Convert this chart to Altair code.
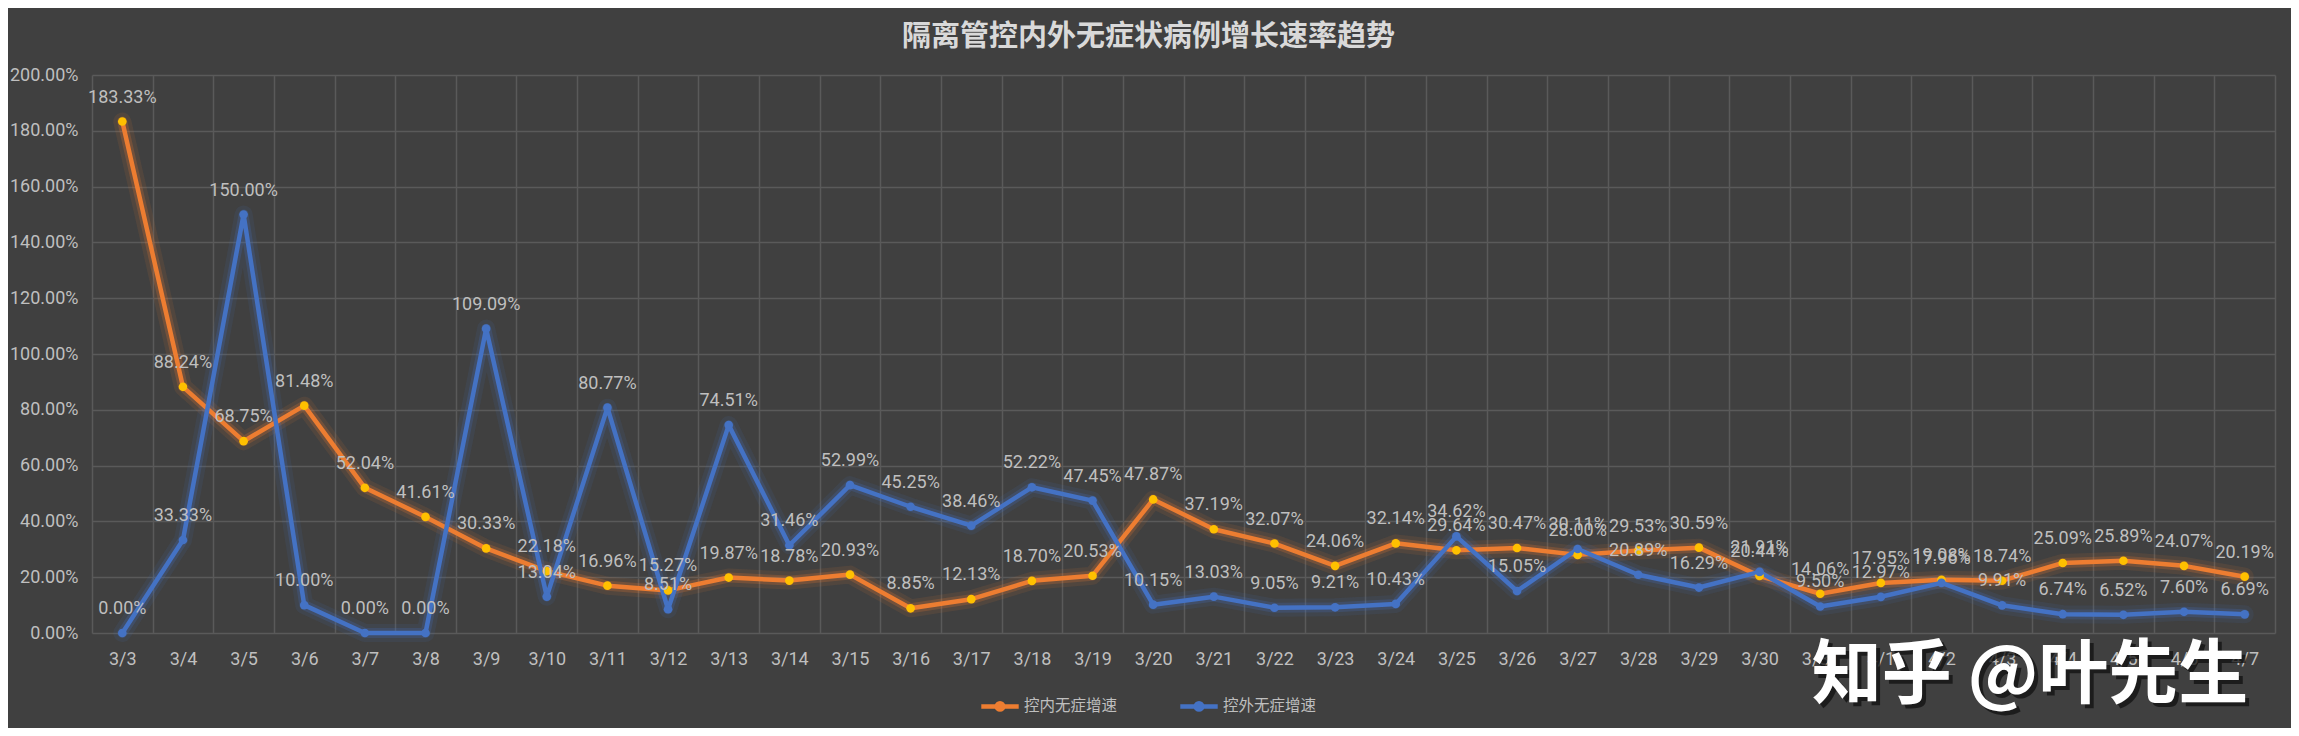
import altair as alt
import pandas as pd

# ---------------- data ----------------
dates = ["3/3", "3/4", "3/5", "3/6", "3/7", "3/8", "3/9", "3/10", "3/11", "3/12",
         "3/13", "3/14", "3/15", "3/16", "3/17", "3/18", "3/19", "3/20", "3/21", "3/22",
         "3/23", "3/24", "3/25", "3/26", "3/27", "3/28", "3/29", "3/30", "3/31",
         "4/1", "4/2", "4/3", "4/4", "4/5", "4/6", "4/7"]

inside_pct = [183.33, 88.24, 68.75, 81.48, 52.04, 41.61, 30.33, 22.18, 16.96, 15.27,
              19.87, 18.78, 20.93, 8.85, 12.13, 18.70, 20.53, 47.87, 37.19, 32.07,
              24.06, 32.14, 29.64, 30.47, 28.00, 29.53, 30.59, 20.44, 14.06,
              17.95, 19.08, 18.74, 25.09, 25.89, 24.07, 20.19]

outside_pct = [0.00, 33.33, 150.00, 10.00, 0.00, 0.00, 109.09, 13.04, 80.77, 8.51,
               74.51, 31.46, 52.99, 45.25, 38.46, 52.22, 47.45, 10.15, 13.03, 9.05,
               9.21, 10.43, 34.62, 15.05, 30.11, 20.89, 16.29, 21.91, 9.50,
               12.97, 17.96, 9.91, 6.74, 6.52, 7.60, 6.69]

series_names = ["控内无症增速", "控外无症增速"]
title_text = "隔离管控内外无症状病例增长速率趋势"
watermark = ["知乎 @叶先生"]
y_ticks = [0.0, 0.2, 0.4, 0.6, 0.8, 1.0, 1.2, 1.4, 1.6, 1.8, 2.0]

line_colors = ["#ED7D31", "#4472C4"]
marker_colors = ["#FFC000", "#4472C4"]

rows = []
for d, a, b in zip(dates, inside_pct, outside_pct):
    rows.append({"date": d, "series": series_names[0], "value": a / 100})
    rows.append({"date": d, "series": series_names[1], "value": b / 100})
df = pd.DataFrame(rows)

NUM_FONT = "Roboto"
CJK_FONT = "Noto Sans CJK SC"
TXT = "#bfbfbf"

x_enc = alt.X("date:N", sort=dates, bandPosition=0.5,
              scale=alt.Scale(type="band", paddingInner=0, paddingOuter=0),
              axis=alt.Axis(title=None, labelAngle=0, tickBand="extent", grid=True,
                            ticks=False, domain=False, labelColor=TXT, labelFontSize=18,
                            labelFont=NUM_FONT, labelPadding=17))
y_enc = alt.Y("value:Q", scale=alt.Scale(domain=[0, 2], nice=False),
              axis=alt.Axis(title=None, values=y_ticks, format=".2%", domain=False,
                            ticks=False, labelColor=TXT, labelFontSize=18,
                            labelFont=NUM_FONT, labelPadding=14))
legend_def = alt.Legend(title=None, orient="none", legendX=887, legendY=610,
                        direction="horizontal",
                        symbolType="M-1,0L1,0M0.17,0A0.17,0.17,0,1,1,-0.17,0A0.17,0.17,0,1,1,0.17,0Z",
                        symbolSize=1400, symbolStrokeWidth=4.5, symbolOpacity=1,
                        labelColor=TXT, labelFontSize=15.5, labelFont=CJK_FONT,
                        labelOffset=3, columnPadding=53, padding=0)
color_enc = alt.Color("series:N", sort=series_names,
                      scale=alt.Scale(domain=series_names, range=line_colors),
                      legend=legend_def)

base = alt.Chart(df)

glow1 = base.mark_line(strokeWidth=18, opacity=0.10, strokeCap="round", strokeJoin="round").encode(
    x=x_enc, y=y_enc, color=color_enc)
glow2 = base.mark_line(strokeWidth=10, opacity=0.22, strokeCap="round", strokeJoin="round").encode(
    x=x_enc, y=y_enc, color=color_enc)
lines = base.mark_line(strokeWidth=4.5, strokeJoin="round").encode(
    x=x_enc, y=y_enc, color=color_enc)
points = base.mark_circle(size=75, opacity=1).encode(
    x=x_enc, y=y_enc,
    fill=alt.Fill("series:N", scale=alt.Scale(domain=series_names, range=marker_colors), legend=None))
labels = base.mark_text(dy=-24, fontSize=18, font=NUM_FONT, color=TXT).encode(
    x=x_enc, y=y_enc, text=alt.Text("value:Q", format=".2%"))

wm_df = pd.DataFrame({"t": watermark})
wm_shadow = alt.Chart(wm_df).mark_text(fontSize=70, font=CJK_FONT, fontWeight="bold",
                                       color="#111111", opacity=0.75, dx=4, dy=4).encode(
    x=alt.value(1938), y=alt.value(602), text="t:N")
wm = alt.Chart(wm_df).mark_text(fontSize=70, font=CJK_FONT, fontWeight="bold",
                                color="#ffffff").encode(
    x=alt.value(1938), y=alt.value(602), text="t:N")

chart = alt.layer(glow1, glow2, lines, points, labels, wm_shadow, wm).properties(
    width=2183, height=558,
    title=alt.TitleParams(title_text, fontSize=29, font=CJK_FONT, fontWeight="bold",
                          color="#d9d9d9", anchor="middle", offset=14, dx=-35),
    autosize=alt.AutoSizeParams(type="none"),
    padding={"left": 84, "top": 67, "right": 16, "bottom": 95},
).configure(background="#404040").configure_view(stroke=None).configure_axis(
    gridColor="#5a5a5a", gridWidth=1.5)

chart.save("out.html", embed_options={"renderer": "svg", "actions": False})
